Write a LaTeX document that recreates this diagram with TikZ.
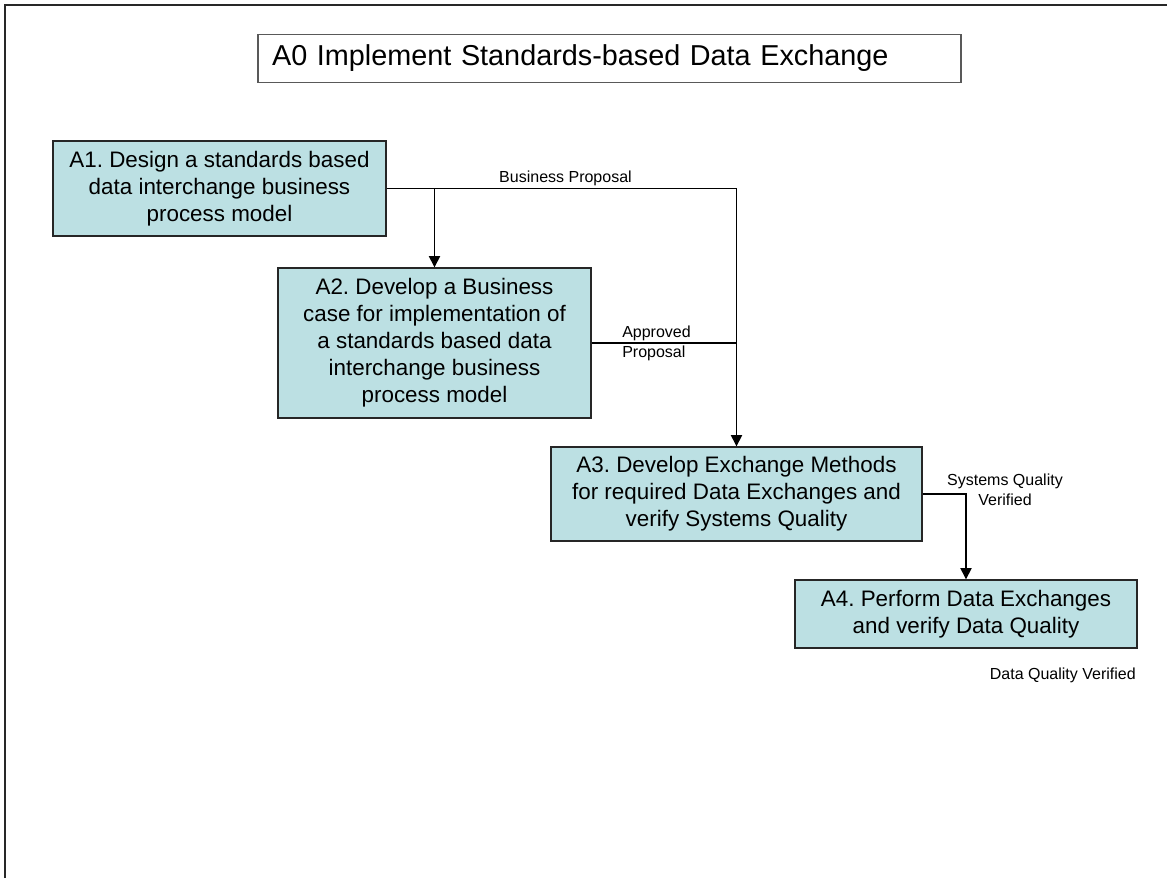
\documentclass[tikz,border=0pt]{standalone}
\usepackage{fontspec}
\setmainfont{Liberation Sans}
\usepackage{tikz}
\usepackage{xcolor}
\usetikzlibrary{arrows.meta}
\frenchspacing

\definecolor{activityfill}{RGB}{188,224,227}
\definecolor{frameline}{RGB}{40,40,40}

\begin{document}
\begin{tikzpicture}[x=0.75pt, y=-0.75pt,
    activity/.style={rectangle, draw=black!85, line width=1pt, fill=activityfill, align=center,
        inner sep=0pt, font=\fontsize{16.8}{20.25}\selectfont},
    flowlabel/.style={inner sep=0pt, font=\fontsize{12}{15}\selectfont},
    flow/.style={line width=0.9pt, -{Triangle[width=8.5pt, length=8.5pt]}}]
    \useasboundingbox (0,0) rectangle (1167,878);
    \draw[frameline, line width=1.6pt] (5,878) -- (5,5) -- (1167,5);

    \node[draw=black!65, line width=1.1pt, minimum width=527.25pt, minimum height=36pt,
        text width=506pt, align=left, inner sep=0pt, font=\fontsize{21.6}{26}\selectfont]
        (A0) at (609.5,58.5) {A0 Implement Standards-based Data Exchange};

    \node[activity, minimum width=249.75pt, minimum height=71.25pt] (A1) at (219.5,188.5)
        {A1. Design a standards based\\data interchange business\\process model};
    \node[activity, minimum width=234.75pt, minimum height=112.5pt] (A2) at (434.5,343)
        {A2. Develop a Business\\case for implementation of\\a standards based data\\interchange business\\process model};
    \node[activity, minimum width=278.25pt, minimum height=70.5pt] (A3) at (736.5,494)
        {A3. Develop Exchange Methods\\for required Data Exchanges and\\verify Systems Quality};
    \node[activity, minimum width=256.5pt, minimum height=51pt] (A4) at (966,614)
        {A4. Perform Data Exchanges\\and verify Data Quality};

    \draw[flow] (A1.east) -| (A3.north);
    \draw[flow] (A1.east -| A2.north) -- (A2.north);
    \draw[line width=0.9pt] (A2.east) -- (A2.east -| A3.north);
    \draw[flow] (A3.east) -| (A4.north);

    \node[flowlabel] (bizprop) at (565.5,178) {Business Proposal};
    \node[flowlabel, anchor=west, align=left] (approved) at (622,343) {Approved\\Proposal};
    \node[flowlabel, align=center] (sysverified) at (1005,490) {Systems Quality\\Verified};
    \node[flowlabel, anchor=east] (dataverified) at (1136,675) {Data Quality Verified};
\end{tikzpicture}
\end{document}
